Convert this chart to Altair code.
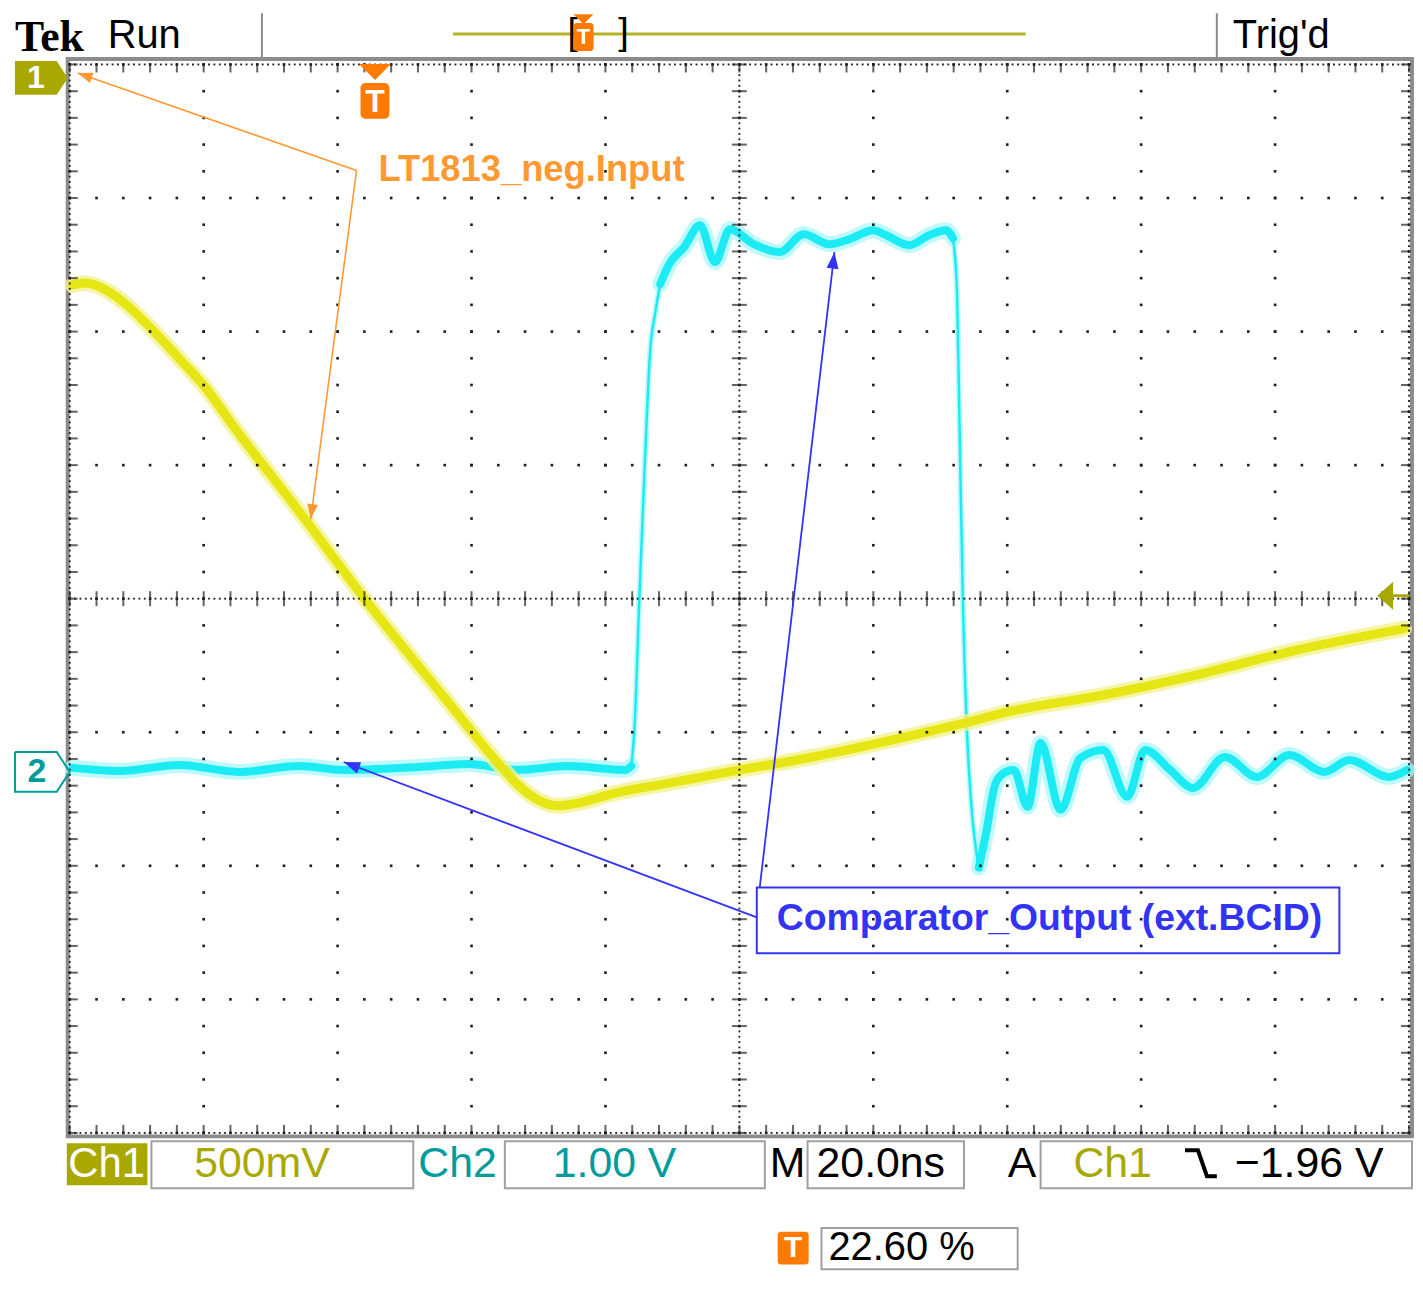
import math
import altair as alt
import pandas as pd

# ---------------- trace values, in graticule divisions ----------------
# x: 10 div (20.0 ns/div), y: 8 div (Ch1 500 mV/div, Ch2 1.00 V/div)
ch1_x = [0.022, 0.112, 0.297, 0.424, 0.632, 0.818, 1.019, 1.212, 1.710, 2.201,
         2.825, 3.197, 3.346, 3.494, 3.643, 3.866, 3.993, 4.483, 5.004, 5.428,
         5.970, 6.617, 7.063, 7.710, 8.401, 9.145, 9.963]
ch1_y = [2.349, 2.363, 2.296, 2.200, 1.998, 1.797, 1.573, 1.305, 0.656, 0.000,
         -0.775, -1.230, -1.394, -1.506, -1.551, -1.514, -1.476, -1.379, -1.282, -1.208,
         -1.096, -0.947, -0.835, -0.723, -0.574, -0.388, -0.224]

ch2_x = [0.022, 0.372, 0.818, 1.264, 1.710, 2.045, 2.602, 2.974, 3.346, 3.717, 4.149, 4.193,
         4.216, 4.253, 4.290, 4.335, 4.372, 4.409,
         4.476, 4.587, 4.706, 4.818, 4.929, 5.108, 5.301, 5.480, 5.673, 5.822, 6.000, 6.097,
         6.268, 6.416, 6.543, 6.595,
         6.625, 6.647, 6.669, 6.699, 6.729, 6.788,
         6.840, 6.914, 6.989, 7.048, 7.152, 7.249, 7.398, 7.546, 7.717, 7.896, 8.030, 8.216,
         8.387, 8.625, 8.862, 9.108, 9.368, 9.554, 9.851, 9.985]
ch2_y = [-1.267, -1.290, -1.245, -1.297, -1.253, -1.282, -1.260, -1.238, -1.282, -1.253, -1.282, -1.253,
         -0.984, 0.000, 0.917, 1.871, 2.140, 2.356,
         2.505, 2.632, 2.796, 2.520, 2.766, 2.654, 2.595, 2.729, 2.654, 2.692, 2.759, 2.721,
         2.647, 2.721, 2.759, 2.699,
         2.296, 1.103, -0.015, -0.984, -1.506, -2.013,
         -1.767, -1.379, -1.297, -1.282, -1.558, -1.081, -1.581, -1.193, -1.133, -1.484, -1.133, -1.282,
         -1.417, -1.185, -1.335, -1.171, -1.297, -1.208, -1.335, -1.282]
# Ch2 pieces: baseline, rising edge, high level, falling edge, ringing
ch2_breaks = [0, 11, 17, 33, 39, len(ch2_x) - 1]

# ---------------- scope read-outs and annotations ----------------
status_texts = ["Tek", "Run", "Trig'd"]
ch1_scale, ch2_scale, time_scale, trig_level, trig_pos = "500mV", "1.00 V", "20.0ns", "\u22121.96 V", "22.60 %"
note_ch1 = "LT1813_neg.Input"
note_ch2 = "Comparator_Output (ext.BCID)"

# ---------------- colours ----------------
OLIVE = "#A8A800"
TEAL = "#009C9C"
ORANGE_T = "#FF7A00"
ORANGE = "#FF9933"
BLUE = "#3333F5"
SANS = "Liberation Sans, Arial, sans-serif"

X = alt.X("x:Q", scale=alt.Scale(domain=[0, 10], nice=False, zero=False), axis=None)
Y = alt.Y("y:Q", scale=alt.Scale(domain=[-4, 4], nice=False, zero=False), axis=None)
PX, PY = 134.5, 134.125  # px per division (used only for arrow-head rotation)


def text_layer(rows, baseline="middle", **style):
    df = pd.DataFrame(rows, columns=["x", "y", "t"])
    return alt.Chart(df).mark_text(baseline=baseline, **style).encode(x=X, y=Y, text="t:N")


def rect_layer(rows, **style):
    df = pd.DataFrame(rows, columns=["x", "x2", "y", "y2"])
    return alt.Chart(df).mark_rect(**style).encode(x=X, x2=alt.X2("x2:Q"), y=Y, y2=alt.Y2("y2:Q"))


def path_layer(paths, **style):
    rows = []
    for g, pts in enumerate(paths):
        for o, (x, y) in enumerate(pts):
            rows.append({"x": x, "y": y, "g": g, "o": o})
    return alt.Chart(pd.DataFrame(rows)).mark_line(**style).encode(
        x=X, y=Y, detail="g:N", order=alt.Order("o:Q"))


def arrow_layers(start, ends, color, width, head):
    lines = path_layer([[start, e] for e in ends], color=color, strokeWidth=width)
    rows = []
    for e in ends:
        dxp = (e[0] - start[0]) * PX
        dyp = -(e[1] - start[1]) * PY
        ang = math.degrees(math.atan2(dxp, -dyp)) % 360
        rows.append({"x": e[0], "y": e[1], "a": ang})
    heads = alt.Chart(pd.DataFrame(rows)).mark_point(
        shape="M0,0L0.36,1L-0.36,1Z", filled=True, size=head, color=color, opacity=1
    ).encode(x=X, y=Y, angle=alt.Angle("a:Q", scale=None))
    return [lines, heads]


# ---------------- graticule ----------------
dots = [(i, j / 5) for i in range(11) for j in range(-20, 21)]
dots += [(m / 5, k) for k in range(-4, 5) for m in range(51)]
fine = [(m / 25, 0) for m in range(251)] + [(5, j / 25) for j in range(-100, 101)]
fine += [(m / 25, 4) for m in range(251)] + [(m / 25, -4) for m in range(251)]
fine += [(0, j / 25) for j in range(-100, 101)] + [(10, j / 25) for j in range(-100, 101)]
vt = [(m / 5, 0) for m in range(51)]
ht = [(5, j / 5) for j in range(-20, 21)]
vt_edge = [(m / 5, 3.97) for m in range(51)] + [(m / 5, -3.97) for m in range(51)]
ht_edge = [(0.03, j / 5) for j in range(-20, 21)] + [(9.97, j / 5) for j in range(-20, 21)]

def pts(rows):
    return pd.DataFrame(rows, columns=["x", "y"])

grid = [
    alt.Chart(pts(dots)).mark_square(size=7, color="#1f1f1f", opacity=1).encode(x=X, y=Y),
    alt.Chart(pts(fine)).mark_square(size=3.5, color="#1f1f1f", opacity=1).encode(x=X, y=Y),
    alt.Chart(pts(vt)).mark_tick(orient="vertical", size=15, thickness=2, color="#222").encode(x=X, y=Y),
    alt.Chart(pts(ht)).mark_tick(orient="horizontal", size=15, thickness=2, color="#222").encode(x=X, y=Y),
    alt.Chart(pts(vt_edge)).mark_tick(orient="vertical", size=8, thickness=2, color="#222").encode(x=X, y=Y),
    alt.Chart(pts(ht_edge)).mark_tick(orient="horizontal", size=8, thickness=2, color="#222").encode(x=X, y=Y),
]

# ---------------- traces ----------------
df1 = pd.DataFrame({"x": ch1_x, "y": ch1_y, "o": range(len(ch1_x))})
rows2 = []
for s in range(len(ch2_breaks) - 1):
    thin = s % 2 == 1
    for k in range(ch2_breaks[s], ch2_breaks[s + 1] + 1):
        rows2.append({"x": ch2_x[k], "y": ch2_y[k], "seg": s, "o": k,
                      "wh": 6 if thin else 16, "wc": 2.5 if thin else 8})
df2 = pd.DataFrame(rows2)

traces = [
    alt.Chart(df2).mark_line(color="#A9F7FB", opacity=0.75, strokeCap="round", strokeJoin="round",
                             interpolate="monotone").encode(
        x=X, y=Y, detail="seg:N", order=alt.Order("o:Q"),
        strokeWidth=alt.StrokeWidth("wh:Q", scale=None, legend=None)),
    alt.Chart(df2).mark_line(color="#1CEBF4", strokeCap="round", strokeJoin="round",
                             interpolate="monotone").encode(
        x=X, y=Y, detail="seg:N", order=alt.Order("o:Q"),
        strokeWidth=alt.StrokeWidth("wc:Q", scale=None, legend=None)),
    alt.Chart(df1).mark_line(color="#F2F28E", opacity=0.8, strokeWidth=16, strokeCap="round",
                             strokeJoin="round", interpolate="monotone").encode(x=X, y=Y, order=alt.Order("o:Q")),
    alt.Chart(df1).mark_line(color="#E6E614", strokeWidth=9, strokeCap="round",
                             strokeJoin="round", interpolate="monotone").encode(x=X, y=Y, order=alt.Order("o:Q")),
]

# ---------------- frame & header ----------------
frame = [
    rect_layer([(-0.015, 10.022, 4.041, -4.026)], fillOpacity=0, stroke="#8c8c8c", strokeWidth=4),
    path_layer([[(1.435, 4.384), (1.435, 4.041)], [(8.565, 4.384), (8.565, 4.041)]],
               color="#8c8c8c", strokeWidth=2),
]

header = [
    text_layer([(-0.409, 4.101, status_texts[0])], baseline="alphabetic", align="left",
               font="Liberation Serif, Times New Roman, serif", fontWeight="bold", fontSize=44, color="black"),
    text_layer([(0.283, 4.123, status_texts[1])], baseline="alphabetic", align="left", font=SANS,
               fontSize=40, color="black"),
    text_layer([(8.684, 4.123, status_texts[2])], baseline="alphabetic", align="left", font=SANS,
               fontSize=40, color="black"),
    path_layer([[(2.862, 4.228), (7.138, 4.228)]], color="#B3B32A", strokeWidth=3),
    text_layer([(3.755, 4.235, "["), (4.134, 4.235, "]")], align="center", font=SANS, fontSize=38, color="black"),
    rect_layer([(3.762, 3.911, 4.310, 4.101)], color=ORANGE_T, cornerRadius=3),
    alt.Chart(pts([(3.836, 4.339)])).mark_point(shape="M-1,-0.5L1,-0.5L0,0.5Z", filled=True, size=400,
                                                 color=ORANGE_T, opacity=1).encode(x=X, y=Y),
    text_layer([(3.836, 4.205, "T")], align="center", font=SANS, fontWeight="bold", fontSize=22, color="white"),
]

# ---------------- on-screen markers ----------------
markers = [
    # trigger position marker
    alt.Chart(pts([(2.279, 3.944)])).mark_point(shape="M-1,-0.5L1,-0.5L0,0.5Z", filled=True, size=1024,
                                                 color=ORANGE_T, opacity=1).encode(x=X, y=Y),
    rect_layer([(2.171, 2.387, 3.862, 3.594)], color=ORANGE_T, cornerRadius=5),
    text_layer([(2.279, 3.722, "T")], align="center", font=SANS, fontWeight="bold", fontSize=32, color="white"),
    # channel 1 ground marker
    alt.Chart(pd.DataFrame({"x": [-0.409, -0.097, -0.015], "y": [4.026, 4.026, 3.899],
                            "y2": [3.773, 3.773, 3.899]})).mark_area(color=OLIVE, opacity=1).encode(
        x=X, y=Y, y2=alt.Y2("y2:Q")),
    text_layer([(-0.253, 3.899, "1")], align="center", font=SANS, fontWeight="bold", fontSize=32, color="white"),
    # channel 2 ground marker
    path_layer([[(-0.409, -1.148), (-0.097, -1.148), (0.0, -1.297), (-0.097, -1.446), (-0.409, -1.446),
                 (-0.409, -1.148)]], color=TEAL, strokeWidth=2),
    text_layer([(-0.245, -1.297, "2")], align="center", font=SANS, fontWeight="bold", fontSize=34, color=TEAL),
    # trigger level marker
    alt.Chart(pts([(9.822, 0.022)])).mark_point(shape="M-0.57,0L0.57,-1L0.57,1Z", filled=True, size=784,
                                                 color=OLIVE, opacity=1).encode(x=X, y=Y),
    path_layer([[(9.88, 0.022), (10.0, 0.022)]], color=OLIVE, strokeWidth=3),
]

# ---------------- annotations ----------------
notes = []
notes += arrow_layers((2.141, 3.206), [(0.059, 3.937), (1.799, 0.596)], ORANGE, 1.6, 900)
notes += arrow_layers((5.130, -2.386), [(2.045, -1.223)], BLUE, 1.8, 1100)
notes += arrow_layers((5.152, -2.162), [(5.710, 2.595)], BLUE, 1.8, 1100)
notes += [
    text_layer([(2.305, 3.206, note_ch1)], align="left", font=SANS, fontWeight="bold", fontSize=36.5, color=ORANGE),
    rect_layer([(5.130, 9.480, -2.162, -2.654)], fillOpacity=0, stroke=BLUE, strokeWidth=2),
    text_layer([(5.279, -2.401, note_ch2)], align="left", font=SANS, fontWeight="bold", fontSize=37.5, color=BLUE),
]

# ---------------- footer read-outs ----------------
FY = -4.235
FY2 = -4.86
footer = [
    rect_layer([(-0.022, 0.580, -4.078, -4.391)], color=OLIVE),
    rect_layer([(0.610, 2.565, -4.063, -4.414), (3.249, 5.190, -4.063, -4.414),
                (5.509, 6.677, -4.063, -4.414), (7.249, 10.022, -4.063, -4.414),
                (5.613, 7.078, -4.712, -5.020)],
               fillOpacity=0, stroke="#a0a0a0", strokeWidth=2),
    text_layer([(0.275, FY, "Ch1")], align="center", font=SANS, fontSize=42, color="white"),
    text_layer([(0.929, FY, ch1_scale), (7.494, FY, "Ch1")], align="left", font=SANS, fontSize=43, color=OLIVE),
    text_layer([(2.602, FY, "Ch2"), (3.606, FY, ch2_scale)], align="left", font=SANS, fontSize=43, color=TEAL),
    text_layer([(5.227, FY, "M"), (5.576, FY, time_scale), (7.004, FY, "A"), (8.699, FY, trig_level)],
               align="left", font=SANS, fontSize=43, color="black"),
    text_layer([(5.665, FY2, trig_pos)], align="left", font=SANS, fontSize=40, color="black"),
    path_layer([[(8.327, -4.130), (8.424, -4.130), (8.491, -4.324), (8.565, -4.324)]], color="black",
               strokeWidth=4),
    rect_layer([(5.286, 5.517, -4.740, -4.985)], color=ORANGE_T, cornerRadius=3),
    text_layer([(5.401, FY2, "T")], align="center", font=SANS, fontWeight="bold", fontSize=30, color="white"),
]

chart = alt.layer(*(frame + traces + grid + markers + header + notes + footer)).properties(
    width=1345, height=1073,
    padding={"left": 62, "top": 54, "right": 6, "bottom": 141},
    autosize=alt.AutoSizeParams(type="none"),
    background="white",
).configure_view(strokeWidth=0)

chart.save("out.html", embed_options={"renderer": "svg", "actions": False})
